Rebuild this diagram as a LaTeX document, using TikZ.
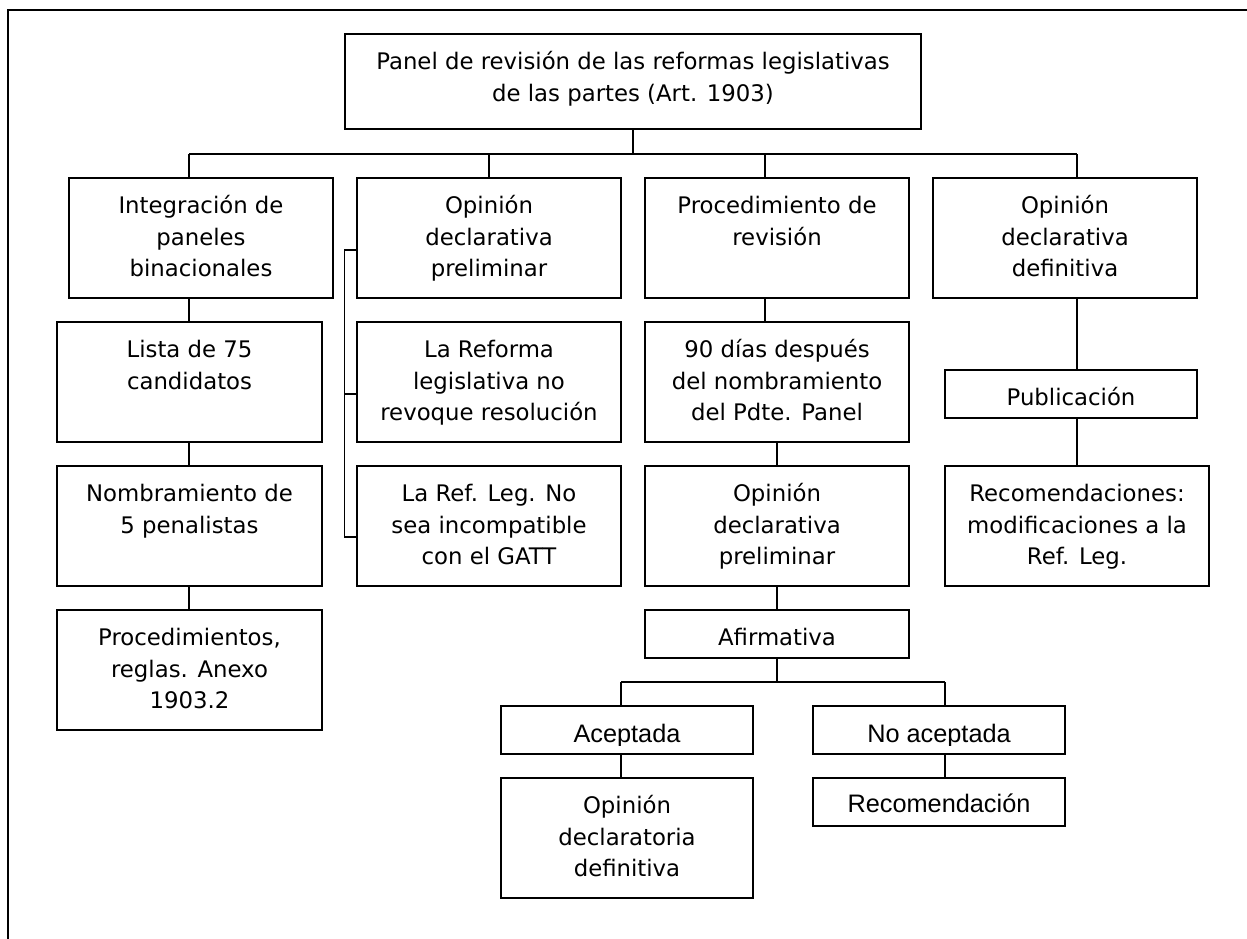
\documentclass[tikz,border=0pt]{standalone}
\usepackage{fontspec}
\setmainfont{DejaVu Sans}
\newfontfamily\arialf{Liberation Sans}
\newcommand\toprl{\rule{0pt}{36pt}}
\begin{document}
\begin{tikzpicture}[x=1pt,y=-1pt,
  lw/.style={line width=1.4pt},
  box/.style={draw, lw, rectangle, inner sep=0pt, minimum width=264pt, minimum height=120pt},
  sbox/.style={box, minimum width=252pt, minimum height=48pt},
  txt/.style={anchor=north, align=center, inner sep=0pt, font=\fontsize{22.8}{31.7}\selectfont},
  atxt/.style={anchor=north, align=center, inner sep=0pt, font=\arialf\fontsize{25.3}{31.7}\selectfont},
  conn/.style={lw}]
\useasboundingbox (0,0) rectangle (1247,939);
% frame (top and left sides only)
\draw[lw] (1247,10) -- (8,10) -- (8,939);

% boxes
\node[box, minimum width=576pt, minimum height=95pt] (panel) at (633,81.5) {};
\node[box] (integ)   at (201,238) {};
\node[box] (opprel)  at (489,238) {};
\node[box] (procrev) at (777,238) {};
\node[box] (opdef)   at (1065,238) {};
\node[box, minimum width=265pt] (lista) at (189.5,382) {};
\node[box, minimum width=265pt] (nombr) at (189.5,526) {};
\node[box, minimum width=265pt] (procs) at (189.5,670) {};
\node[box] (reforma) at (489,382) {};
\node[box] (refleg)  at (489,526) {};
\node[box] (dias)    at (777,382) {};
\node[box] (opprel2) at (777,526) {};
\node[box, minimum height=48pt] (afirm) at (777,634) {};
\node[sbox] (acept)   at (627,730) {};
\node[box, minimum width=252pt] (opdecl) at (627,838) {};
\node[sbox] (noacept) at (939,730) {};
\node[sbox] (recom)   at (939,802) {};
\node[sbox] (public)  at (1071,394) {};
\node[box] (recomend) at (1077,526) {};

% texts
\node[txt] (panelT) at (panel.north) {\toprl Panel de revisión de las reformas legislativas\\de las partes (Art. 1903)};
\node[txt] (integT) at (integ.north) {\toprl Integración de\\paneles\\binacionales};
\node[txt] (opprelT) at (opprel.north) {\toprl Opinión\\declarativa\\preliminar};
\node[txt] (procrevT) at (procrev.north) {\toprl Procedimiento de\\revisión};
\node[txt] (opdefT) at (opdef.north) {\toprl Opinión\\declarativa\\definitiva};
\node[txt] (listaT) at (lista.north) {\toprl Lista de 75\\candidatos};
\node[txt] (nombrT) at (nombr.north) {\toprl Nombramiento de\\5 penalistas};
\node[txt] (procsT) at (procs.north) {\toprl Procedimientos,\\reglas. Anexo\\1903.2};
\node[txt] (reformaT) at (reforma.north) {\toprl La Reforma\\legislativa no\\revoque resolución};
\node[txt] (reflegT) at (refleg.north) {\toprl La Ref. Leg. No\\sea incompatible\\con el GATT};
\node[txt] (diasT) at (dias.north) {\toprl 90 días después\\del nombramiento\\del Pdte. Panel};
\node[txt] (opprel2T) at (opprel2.north) {\toprl Opinión\\declarativa\\preliminar};
\node[txt] (afirmT) at (afirm.north) {\toprl Afirmativa};
\node[txt] (opdeclT) at (opdecl.north) {\toprl Opinión\\declaratoria\\definitiva};
\node[txt] (publicT) at (public.north) {\toprl Publicación};
\node[txt] (recomendT) at (recomend.north) {\toprl Recomendaciones:\\modificaciones a la\\Ref. Leg.};
\node[atxt] (recomT) at (recom.north) {\rule{0pt}{35pt}Recomendación};
\begin{scope}
  \clip (500,700) rectangle (1070,745);
  \node[atxt] (aceptT) at (acept.north) {\rule{0pt}{37pt}Aceptada};
  \node[atxt] (noaceptT) at (noacept.north) {\rule{0pt}{37pt}No aceptada};
\end{scope}

% connectors
\coordinate (busL) at (189,154);
\coordinate (busR) at (1077,154);
\coordinate (busP) at (765,154);
\draw[conn] (panel.south) -- (panel.south |- busL);
\draw[conn] (busL) -- (busR);
\draw[conn] (busL) -- (busL |- integ.north);
\draw[conn] (opprel.north |- busL) -- (opprel.north);
\draw[conn] (busP) -- (busP |- procrev.north);
\draw[conn] (busR) -- (busR |- opdef.north);
% left column
\draw[conn] (busL |- integ.south) -- (busL |- lista.north);
\draw[conn] (busL |- lista.south) -- (busL |- nombr.north);
\draw[conn] (busL |- nombr.south) -- (busL |- procs.north);
% bracket
\draw[conn] ([yshift=-12pt]opprel.west) -- ++(-12,0) |- ([yshift=-11pt]refleg.west);
\draw[conn] ([yshift=-12pt]reforma.west) -- ++(-12,0);
% procedure column
\draw[conn] (busP |- procrev.south) -- (busP |- dias.north);
\draw[conn] (dias.south) -- (opprel2.north);
\draw[conn] (opprel2.south) -- (afirm.north);
\coordinate (b2L) at (621,682);
\coordinate (b2R) at (945,682);
\draw[conn] (afirm.south) -- (afirm.south |- b2L);
\draw[conn] (b2L) -- (b2R);
\draw[conn] (b2L) -- (b2L |- acept.north);
\draw[conn] (b2R) -- (b2R |- noacept.north);
\draw[conn] (b2L |- acept.south) -- (b2L |- opdecl.north);
\draw[conn] (b2R |- noacept.south) -- (b2R |- recom.north);
% right column
\draw[conn] (busR |- opdef.south) -- (busR |- public.north);
\draw[conn] (busR |- public.south) -- (busR |- recomend.north);
\end{tikzpicture}
\end{document}
